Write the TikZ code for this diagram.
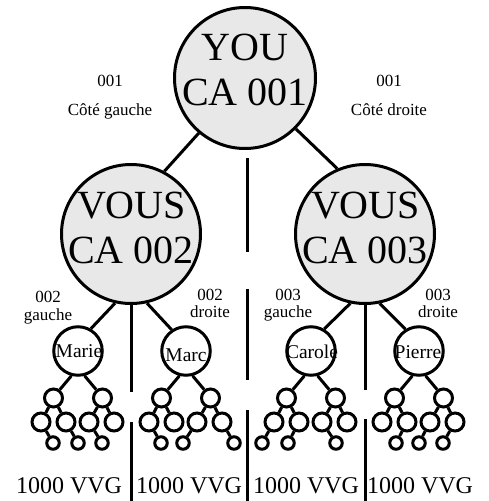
\documentclass[tikz,border=0pt]{standalone}
\usepackage{fontspec}
\setmainfont{Liberation Serif}
\usetikzlibrary{calc}
\definecolor{cfill}{HTML}{E8E8E8}
\tikzset{
  bigc/.style={circle,draw=black,fill=cfill,line width=3pt,inner sep=0pt},
  namec/.style={circle,draw=black,fill=white,line width=3pt,inner sep=0pt,minimum size=48.5pt},
  midc/.style={circle,draw=black,fill=white,line width=3pt,inner sep=0pt,minimum size=18pt},
  leafc/.style={circle,draw=black,fill=white,line width=3pt,inner sep=0pt,minimum size=12.5pt},
  bigtxt/.style={font=\fontsize{40}{45}\selectfont,inner sep=0pt,anchor=base},
  lbl/.style={font=\fontsize{17}{19}\selectfont,inner sep=0pt,anchor=base},
  nametxt/.style={font=\fontsize{19.5}{22}\selectfont,inner sep=0pt,anchor=base},
  foot/.style={font=\fontsize{24}{28}\selectfont,inner sep=0pt,anchor=base},
  edge/.style={line width=3pt},
  medge/.style={line width=3pt}
}
\newcommand\mtree[3]{%
  \node[midc] (#1a) at (#2-24.5,#3+47) {};
  \node[midc] (#1b) at (#2+24.5,#3+47) {};
  \node[midc] (#1a1) at (#2-37,#3+71) {};
  \node[midc] (#1a2) at (#2-12,#3+71) {};
  \node[midc] (#1b1) at (#2+11,#3+71) {};
  \node[midc] (#1b2) at (#2+36,#3+71) {};
  \draw[medge] (#1.255) -- (#1a.53);
  \draw[medge] (#1.285) -- (#1b.127);
  \draw[medge] (#1a) -- (#1a1);
  \draw[medge] (#1a) -- (#1a2);
  \draw[medge] (#1b) -- (#1b1);
  \draw[medge] (#1b) -- (#1b2);
}
\newcommand\mleaf[4]{%
  \node[leafc] (#1#3) at ($(#1#2)+(#4,21)$) {};
  \draw[medge] (#1#2) -- (#1#3);
}
\begin{document}
\begin{tikzpicture}[x=1pt,y=-1pt]
\useasboundingbox (0,0) rectangle (489,501);
% main circles
\node[bigc,minimum size=141pt] (you) at (245,78) {};
\node[bigc,minimum size=139pt] (vl) at (131,234) {};
\node[bigc,minimum size=139pt] (vr) at (365,234) {};
\node[bigtxt] (you1) at (245,60) {YOU};
\node[bigtxt] (you2) at (245,105) {CA 001};
\node[bigtxt] (vl1) at (131.5,218) {VOUS};
\node[bigtxt] (vl2) at (131,263) {CA 002};
\node[bigtxt] (vr1) at (365.5,218) {VOUS};
\node[bigtxt] (vr2) at (365,263) {CA 003};
\draw[edge] (you.230) -- (vl.62);
\draw[edge] (you.315) -- (vr.113);
% side labels
\node[lbl] (t1) at (110,86) {001};
\node[lbl] (t2) at (110,115) {Côté gauche};
\node[lbl] (t3) at (389,86) {001};
\node[lbl] (t4) at (389,115) {Côté droite};
\node[lbl] (t5) at (48,302) {002};
\node[lbl] (t6) at (48,320) {gauche};
\node[lbl] (t7) at (210,300) {002};
\node[lbl] (t8) at (210,317) {droite};
\node[lbl] (t9) at (288,300) {003};
\node[lbl] (t10) at (288,317) {gauche};
\node[lbl] (t11) at (438,300) {003};
\node[lbl] (t12) at (438,317) {droite};
% name circles
\node[namec] (marie) at (78,351) {};
\node[namec] (marc) at (186,351) {};
\node[namec] (carole) at (311,351) {};
\node[namec] (pierre) at (419,351) {};
\node[nametxt] (marieT) at (79,357) {Marie};
\node[nametxt] (marcT) at (186,361) {Marc};
\node[nametxt] (caroleT) at (312,358) {Carole};
\node[nametxt] (pierreT) at (418,358) {Pierre};
\draw[edge] (vl.257) -- (marie.60);
\draw[edge] (vl.283) -- (marc.124);
\draw[edge] (vr.258) -- (carole.59);
\draw[edge] (vr.282) -- (pierre.122);
% mini trees
\mtree{marie}{78}{351}
\mleaf{marie}{a1}{l1}{12}
\mleaf{marie}{a2}{l2}{12}
\mleaf{marie}{b1}{l3}{13}
\mtree{marc}{186}{351}
\mleaf{marc}{a1}{l1}{12}
\mleaf{marc}{b1}{l2}{-14}
\mleaf{marc}{b2}{l3}{12}
\mtree{carole}{311}{351}
\mleaf{carole}{a1}{l1}{-12}
\mleaf{carole}{a2}{l2}{-11}
\mleaf{carole}{b1}{l3}{14}
\mtree{pierre}{419}{351}
\mleaf{pierre}{a2}{l1}{-11}
\mleaf{pierre}{b1}{l2}{-11}
\mleaf{pierre}{b2}{l3}{-12}
% separators
\coordinate (m1a) at (247,158);
\coordinate (m1b) at (247,252);
\coordinate (m2a) at (247,289);
\coordinate (m2b) at (247,380);
\coordinate (m3a) at (247,410);
\coordinate (m3b) at (247,501);
\draw[edge] (m1a) -- (m1b);
\draw[edge] (m2a) -- (m2b);
\draw[edge] (m3a) -- (m3b);
\coordinate (l1b) at (131,392);
\coordinate (l2a) at (131,422);
\coordinate (l2b) at (131,501);
\draw[edge] (vl.south) -- (l1b);
\draw[edge] (l2a) -- (l2b);
\coordinate (r1b) at (365,390);
\coordinate (r2a) at (365,419);
\coordinate (r2b) at (365,501);
\draw[edge] (vr.south) -- (r1b);
\draw[edge] (r2a) -- (r2b);
% footers
\node[foot] (f1) at (69,493) {1000 VVG};
\node[foot] (f2) at (189,493) {1000 VVG};
\node[foot] (f3) at (306,493) {1000 VVG};
\node[foot] (f4) at (420,493) {1000 VVG};
\end{tikzpicture}
\end{document}
